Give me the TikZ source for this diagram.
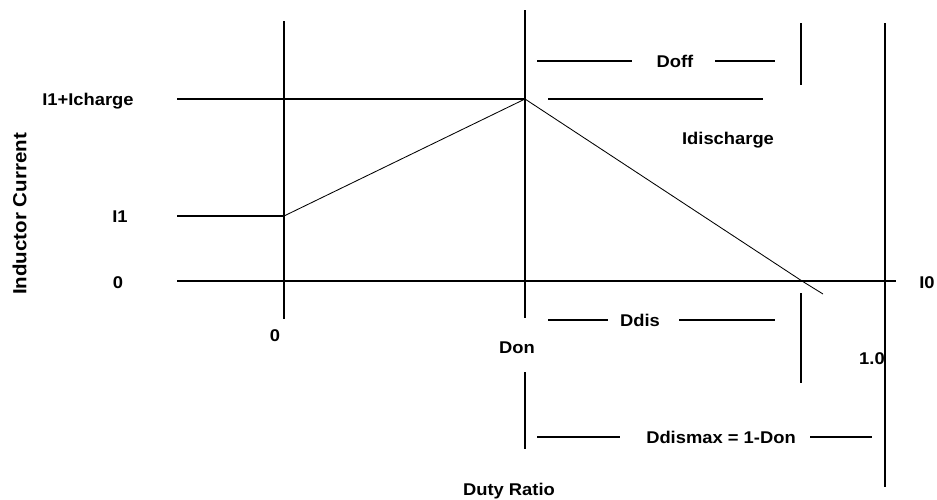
\documentclass[tikz,border=0pt]{standalone}
\usepackage{fontspec}
\setmainfont{Liberation Sans}[FakeStretch=1.08]
\begin{document}
\begin{tikzpicture}[x=1pt,y=-1pt,
  axisline/.style={line width=1.1pt},
  ramp/.style={line width=0.85pt},
  lbl/.style={font=\fontsize{17}{20}\selectfont\bfseries, inner sep=0pt, anchor=base},
  ylbl/.style={font=\fontsize{19}{22}\selectfont\bfseries, inner sep=0pt, anchor=base, rotate=90}]
\useasboundingbox (0,0) rectangle (937,499);

% key points of the inductor current waveform
\coordinate (start) at (284,216);
\coordinate (peak)  at (525,99);
\coordinate (zero)  at (802,281);
\coordinate (tail)  at (823,294);

% vertical reference lines
\draw[axisline] (284,21) -- (284,319);
\draw[axisline] (525,10) -- (525,318);
\draw[axisline] (525,372) -- (525,449);
\draw[axisline] (885,23) -- (885,487);
\draw[axisline] (801,23) -- (801,85);
\draw[axisline] (801,293) -- (801,383);

% horizontal current levels
\draw[axisline] (177,281) -- (896,281);
\draw[axisline] (177,216) -- (start);
\draw[axisline] (177,99) -- (peak);
\draw[axisline] (548,99) -- (763,99);

% waveform
\draw[ramp] (start) -- (peak) -- (zero) -- (tail);

% interval labels with their leader segments
\node[lbl] (doff) at (675,67) {Doff};
\draw[axisline] (537,61) -- (632,61);
\draw[axisline] (715,61) -- (775,61);

\node[lbl] (ddis) at (640,326) {Ddis};
\draw[axisline] (548,320) -- (608,320);
\draw[axisline] (679,320) -- (775,320);

\node[lbl] (ddismax) at (721,443) {Ddismax = 1-Don};
\draw[axisline] (537,437) -- (620,437);
\draw[axisline] (810,437) -- (872,437);

% level and tick labels
\node[lbl] (licharge) at (88,105) {I1+Icharge};
\node[lbl] (li1) at (120,222) {I1};
\node[lbl] (lzero) at (118,288) {0};
\node[lbl] (xzero) at (275,341) {0};
\node[lbl] (don) at (517,353) {Don};
\node[lbl] (idis) at (728,144) {Idischarge};
\node[lbl] (one) at (872,364) {1.0};
\node[lbl] (izero) at (927,288) {I0};

% axis titles
\node[lbl] (xtitle) at (509,495) {Duty Ratio};
\node[ylbl] (ytitle) at (26.5,214) {Inductor Current};
\end{tikzpicture}
\end{document}
